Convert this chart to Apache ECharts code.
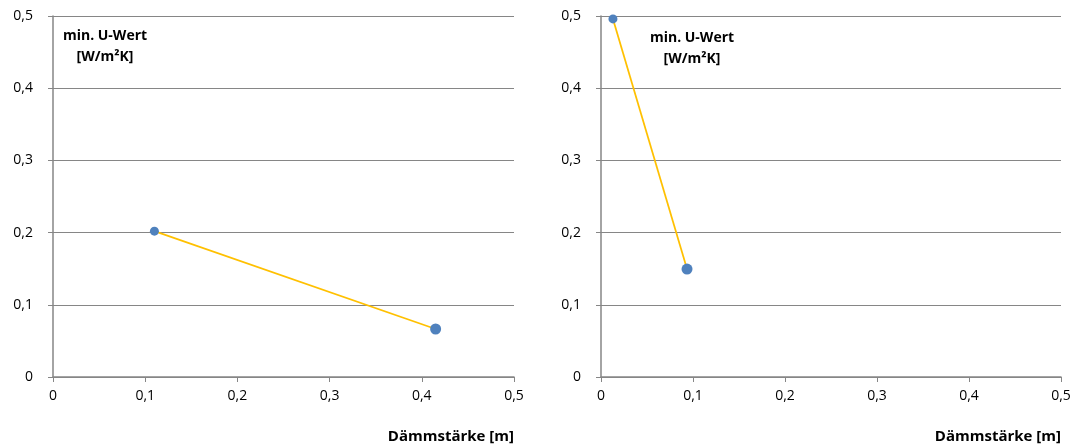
<!DOCTYPE html>
<html><head><meta charset="utf-8">
<script src="https://cdn.jsdelivr.net/npm/echarts@6/dist/echarts.min.js"></script>
<style>html,body{margin:0;padding:0;background:#fff}#c{width:1078px;height:447px}</style>
</head><body><div id="c"></div>
<script>
const leftX = [0.11, 0.415];
const leftY = [0.202, 0.0665];
const rightX = [0.013, 0.0935];
const rightY = [0.496, 0.1495];
const markerSizes = [9, 11];
const ticks = [0, 0.1, 0.2, 0.3, 0.4, 0.5];
const yTitleLines = ['min. U-Wert', '[W/m²K]'];
const xTitle = 'Dämmstärke [m]';

const font = '"Open Sans", "Noto Sans", sans-serif';
const fmt = v => String(Math.round(v*10)/10).replace('.', ',');
const axisLine = {show:true, lineStyle:{color:'#868686', width:1.5}};
function xAxis(idx){
  return {type:'value', gridIndex:idx, min:0, max:0.5, interval:0.1,
    axisLine:axisLine, axisTick:{show:true, length:5, lineStyle:{color:'#868686'}},
    splitLine:{show:false},
    axisLabel:{formatter:fmt, color:'#000', fontSize:14, fontFamily:font, margin:12}};
}
function yAxis(idx){
  return {type:'value', gridIndex:idx, min:0, max:0.5, interval:0.1,
    axisLine:axisLine, axisTick:{show:true, length:5, lineStyle:{color:'#868686'}},
    splitLine:{show:true, lineStyle:{color:'#868686', width:1}},
    axisLabel:{formatter:fmt, color:'#000', fontSize:14, fontFamily:font, margin:20}};
}
function series(idx, xs, ys){
  return {type:'line', xAxisIndex:idx, yAxisIndex:idx,
    data: xs.map((x,i)=>({value:[x, ys[i]], symbolSize:markerSizes[i]})),
    symbol:'circle', showSymbol:true,
    lineStyle:{color:'#FFC000', width:1.75},
    itemStyle:{color:'#4F81BD'}, animation:false, z:3};
}
function titleText(cx, y, t){
  return {type:'text', x:cx, y:y, style:{text:t, font:'bold 14px '+font, fill:'#000', align:'center', verticalAlign:'middle'}};
}
const chart = echarts.init(document.getElementById('c'));
chart.setOption({
  animation:false,
  grid:[{left:53, right:564, top:16, bottom:70},{left:601, right:17, top:16, bottom:70}],
  xAxis:[xAxis(0), xAxis(1)],
  yAxis:[yAxis(0), yAxis(1)],
  series:[series(0, leftX, leftY), series(1, rightX, rightY)],
  graphic:[
    titleText(105, 36, yTitleLines[0]), titleText(105, 57, yTitleLines[1]),
    titleText(692, 38, yTitleLines[0]), titleText(692, 59, yTitleLines[1]),
    {type:'text', x:514, y:437, style:{text:xTitle, font:'bold 15px '+font, fill:'#000', align:'right', verticalAlign:'middle'}},
    {type:'text', x:1061, y:437, style:{text:xTitle, font:'bold 15px '+font, fill:'#000', align:'right', verticalAlign:'middle'}}
  ]
});
</script></body></html>
